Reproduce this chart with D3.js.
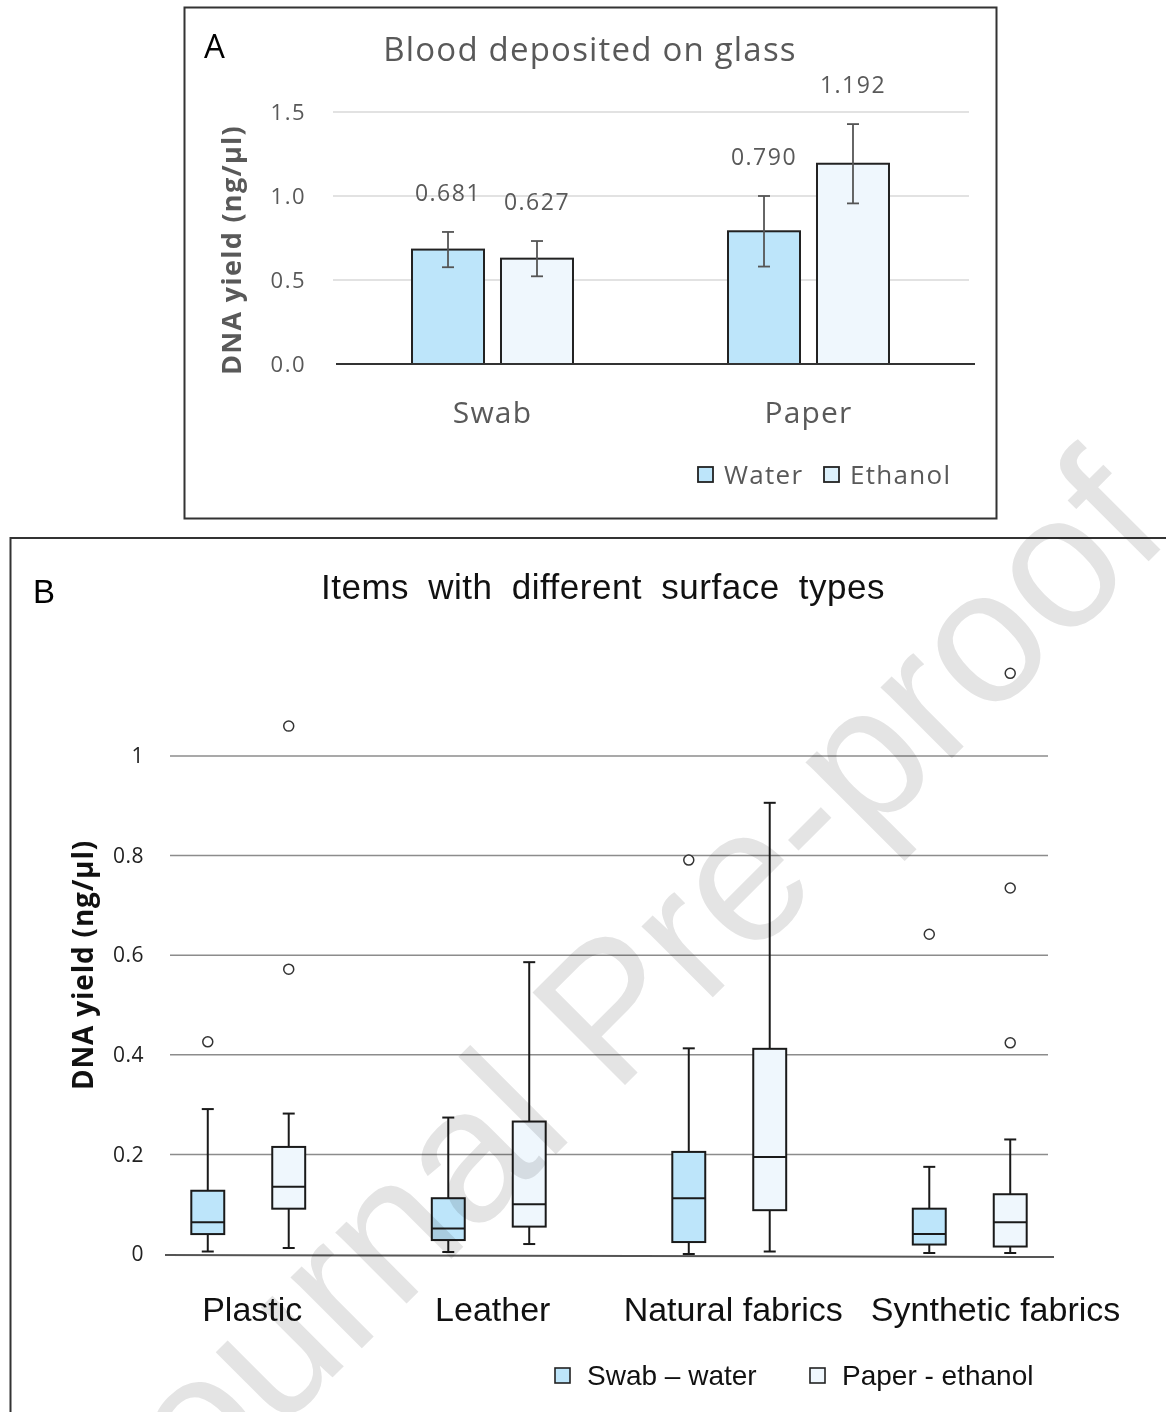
<!DOCTYPE html>
<html>
<head>
<meta charset="utf-8">
<script src="https://cdn.jsdelivr.net/npm/d3@7"></script>
<style>
  body { margin: 0; background: #fff; }
  svg { display: block; }
</style>
</head>
<body>
<div id="holder"></div>
<script>
const w = 1166;
const h = 1412;

// Panel A data
const sitesA = ["Swab", "Paper"];
const seriesA = ["Water", "Ethanol"];
const waterMean = [0.681, 0.790];
const ethanolMean = [0.627, 1.192];
const waterErr = [0.105, 0.21];
const ethanolErr = [0.105, 0.236];
const ticksA = [0, 0.5, 1.0, 1.5];

// Panel B data (box plots)
const surfaces = ["Plastic", "Leather", "Natural fabrics", "Synthetic fabrics"];
const seriesB = ["Swab \u2013 water", "Paper - ethanol"];
const swabMin = [0.005, 0.004, 0.0, 0.002];
const swabQ1 = [0.040, 0.028, 0.024, 0.019];
const swabMed = [0.064, 0.051, 0.112, 0.040];
const swabQ3 = [0.127, 0.112, 0.205, 0.091];
const swabMax = [0.291, 0.274, 0.413, 0.175];
const swabOut = [[0.426], [], [0.791], [0.642]];
const paperMin = [0.012, 0.020, 0.005, 0.002];
const paperQ1 = [0.091, 0.055, 0.088, 0.015];
const paperMed = [0.135, 0.100, 0.195, 0.064];
const paperQ3 = [0.215, 0.266, 0.412, 0.120];
const paperMax = [0.282, 0.586, 0.906, 0.230];
const paperOut = [[0.572, 1.060], [], [], [0.424, 0.735, 1.166]];
const ticksB = [0, 0.2, 0.4, 0.6, 0.8, 1];

const fillWater = "#bde5fa";
const fillEthanol = "#eff7fd";
const greyText = "#595959";
const fontA = "'Open Sans', 'DejaVu Sans', sans-serif";
const fontB = "'Liberation Sans', Arial, sans-serif";

const svg = d3.select("#holder")
    .append("svg")
    .attr("width", w)
    .attr("height", h)

// ---------------- Panel A ----------------
const gA = svg.append("g")

gA.append("rect")
    .attr("x", 184.5).attr("y", 7.5)
    .attr("width", 812).attr("height", 511)
    .attr("fill", "white")
    .attr("stroke", "#333").attr("stroke-width", 2)

gA.append("text")
    .attr("x", 204).attr("y", 58)
    .attr("font-family", fontA).attr("font-size", 33)
    .text("A")

gA.append("text")
    .attr("x", 590).attr("y", 61)
    .attr("text-anchor", "middle")
    .attr("font-family", fontA).attr("font-size", 33)
    .attr("letter-spacing", 1.2)
    .attr("fill", greyText)
    .text("Blood deposited on glass")

const yA = d3.scaleLinear().domain([0, 1.5]).range([364, 112])
const xA = d3.scaleBand().domain(sitesA).range([334.5, 966.5])
const xA2 = d3.scaleBand().domain(seriesA).range([0, xA.bandwidth()])
    .paddingInner(0.191).paddingOuter(0.871)

// gridlines
gA.append("g")
    .selectAll("line")
    .data(ticksA.slice(1))
    .join("line")
    .attr("x1", 333).attr("x2", 969)
    .attr("y1", d => yA(d)).attr("y2", d => yA(d))
    .attr("stroke", "#d9d9d9").attr("stroke-width", 1.5)

// y axis labels
const axisA = d3.axisLeft(yA).tickValues(ticksA).tickFormat(d3.format(".1f")).tickSize(0).tickPadding(0)
gA.append("g")
    .attr("transform", "translate(306,0)")
    .call(axisA)
    .call(g => g.select(".domain").remove())
    .call(g => g.selectAll("text")
        .attr("font-family", fontA).attr("font-size", 22)
        .attr("letter-spacing", 1.5)
        .attr("fill", greyText))

gA.append("text")
    .attr("transform", "translate(241,250) rotate(-90)")
    .attr("text-anchor", "middle")
    .attr("font-family", fontA).attr("font-size", 27).attr("font-weight", "bold")
    .attr("letter-spacing", 1.3)
    .attr("fill", greyText)
    .text("DNA yield (ng/\u00b5l)")

const barsA = [];
sitesA.forEach((s, i) => {
    barsA.push({ site: s, series: "Water", v: waterMean[i], e: waterErr[i], fill: fillWater });
    barsA.push({ site: s, series: "Ethanol", v: ethanolMean[i], e: ethanolErr[i], fill: fillEthanol });
});

gA.append("g")
    .selectAll("rect")
    .data(barsA)
    .join("rect")
    .attr("x", d => xA(d.site) + xA2(d.series))
    .attr("y", d => yA(d.v))
    .attr("width", xA2.bandwidth())
    .attr("height", d => yA(0) - yA(d.v))
    .attr("fill", d => d.fill)
    .attr("stroke", "#222").attr("stroke-width", 2)

// error bars
const errG = gA.append("g").attr("stroke", "#555").attr("stroke-width", 1.8)
barsA.forEach(d => {
    const cx = xA(d.site) + xA2(d.series) + xA2.bandwidth() / 2;
    errG.append("line").attr("x1", cx).attr("x2", cx)
        .attr("y1", yA(d.v + d.e)).attr("y2", yA(d.v - d.e))
    errG.append("line").attr("x1", cx - 6).attr("x2", cx + 6)
        .attr("y1", yA(d.v + d.e)).attr("y2", yA(d.v + d.e))
    errG.append("line").attr("x1", cx - 6).attr("x2", cx + 6)
        .attr("y1", yA(d.v - d.e)).attr("y2", yA(d.v - d.e))
})

// data labels
gA.append("g")
    .selectAll("text")
    .data(barsA)
    .join("text")
    .attr("x", d => xA(d.site) + xA2(d.series) + xA2.bandwidth() / 2)
    .attr("y", d => yA(d.v + d.e) - 31)
    .attr("text-anchor", "middle")
    .attr("font-family", fontA).attr("font-size", 23)
    .attr("letter-spacing", 1.5)
    .attr("fill", greyText)
    .text(d => d3.format(".3f")(d.v))

// x axis line
gA.append("line")
    .attr("x1", 336).attr("x2", 975)
    .attr("y1", yA(0)).attr("y2", yA(0))
    .attr("stroke", "#333").attr("stroke-width", 2)

gA.append("g")
    .selectAll("text")
    .data(sitesA)
    .join("text")
    .attr("x", d => xA(d) + xA.bandwidth() / 2)
    .attr("y", 423)
    .attr("text-anchor", "middle")
    .attr("font-family", fontA).attr("font-size", 30)
    .attr("letter-spacing", 1.2)
    .attr("fill", greyText)
    .text(d => d)

// legend A
const legA = gA.append("g").attr("transform", "translate(698,467)")
const legAx = [0, 126];
seriesA.forEach((s, i) => {
    legA.append("rect")
        .attr("x", legAx[i]).attr("y", 0).attr("width", 15).attr("height", 15)
        .attr("fill", i === 0 ? fillWater : "#dcf0fb")
        .attr("stroke", "#222").attr("stroke-width", 1.8)
    legA.append("text")
        .attr("x", legAx[i] + 26).attr("y", 17)
        .attr("font-family", fontA).attr("font-size", 26)
        .attr("letter-spacing", 1.3)
        .attr("fill", greyText)
        .text(s)
})

// ---------------- Panel B ----------------
const gB = svg.append("g")

gB.append("rect")
    .attr("x", 10.5).attr("y", 538)
    .attr("width", 1170).attr("height", 900)
    .attr("fill", "white")
    .attr("stroke", "#333").attr("stroke-width", 2)

gB.append("text")
    .attr("x", 33).attr("y", 603)
    .attr("font-family", fontB).attr("font-size", 33)
    .text("B")

gB.append("text")
    .attr("x", 603).attr("y", 599)
    .attr("text-anchor", "middle")
    .attr("font-family", fontB).attr("font-size", 35)
    .attr("letter-spacing", 0.5).attr("word-spacing", 9)
    .attr("fill", "#111")
    .text("Items with different surface types")

const yB = d3.scaleLinear().domain([0, 1]).range([1254, 756])
const xB = d3.scaleBand().domain(surfaces).range([128, 1090])
const xB2 = d3.scaleBand().domain(seriesB).range([0, xB.bandwidth()])
    .paddingInner(0.593).paddingOuter(0.782)

gB.append("g")
    .selectAll("line")
    .data(ticksB.slice(1))
    .join("line")
    .attr("x1", 170).attr("x2", 1048)
    .attr("y1", d => yB(d)).attr("y2", d => yB(d))
    .attr("stroke", "#8c8c8c").attr("stroke-width", 1.5)

const axisB = d3.axisLeft(yB).tickValues(ticksB).tickFormat(d3.format("~f")).tickSize(0).tickPadding(0)
gB.append("g")
    .attr("transform", "translate(144,0)")
    .call(axisB)
    .call(g => g.select(".domain").remove())
    .call(g => g.selectAll("text")
        .attr("font-family", fontA).attr("font-size", 21)
        .attr("letter-spacing", 0.5)
        .attr("fill", "#222"))

gB.append("text")
    .attr("transform", "translate(93,965) rotate(-90)")
    .attr("text-anchor", "middle")
    .attr("font-family", fontA).attr("font-size", 28).attr("font-weight", "bold")
    .attr("letter-spacing", 0.8)
    .attr("fill", "#111")
    .text("DNA yield (ng/\u00b5l)")

const boxes = [];
surfaces.forEach((s, i) => {
    boxes.push({ surf: s, series: seriesB[0], min: swabMin[i], q1: swabQ1[i], med: swabMed[i], q3: swabQ3[i], max: swabMax[i], out: swabOut[i], fill: fillWater });
    boxes.push({ surf: s, series: seriesB[1], min: paperMin[i], q1: paperQ1[i], med: paperMed[i], q3: paperQ3[i], max: paperMax[i], out: paperOut[i], fill: fillEthanol });
});

const boxG = gB.append("g")
boxes.forEach(d => {
    const x0 = xB(d.surf) + xB2(d.series);
    const bw = xB2.bandwidth();
    const cx = x0 + bw / 2;
    const g = boxG.append("g").attr("stroke", "#1a1a1a").attr("stroke-width", 2)
    g.append("line").attr("x1", cx).attr("x2", cx).attr("y1", yB(d.max)).attr("y2", yB(d.q3))
    g.append("line").attr("x1", cx).attr("x2", cx).attr("y1", yB(d.q1)).attr("y2", yB(d.min))
    g.append("line").attr("x1", cx - 6).attr("x2", cx + 6).attr("y1", yB(d.max)).attr("y2", yB(d.max))
    g.append("line").attr("x1", cx - 6).attr("x2", cx + 6).attr("y1", yB(d.min)).attr("y2", yB(d.min))
    g.append("rect")
        .attr("x", x0).attr("y", yB(d.q3))
        .attr("width", bw).attr("height", yB(d.q1) - yB(d.q3))
        .attr("fill", d.fill)
    g.append("line").attr("x1", x0).attr("x2", x0 + bw).attr("y1", yB(d.med)).attr("y2", yB(d.med))
    g.selectAll("circle")
        .data(d.out)
        .join("circle")
        .attr("cx", cx).attr("cy", v => yB(v)).attr("r", 5)
        .attr("fill", "white").attr("stroke", "#333").attr("stroke-width", 1.5)
})

gB.append("line")
    .attr("x1", 165).attr("x2", 1054)
    .attr("y1", yB(0) + 1).attr("y2", yB(0) + 3)
    .attr("stroke", "#555").attr("stroke-width", 2)

// category labels, nudged right if they would collide
const catLabels = gB.append("g")
    .selectAll("text")
    .data(surfaces)
    .join("text")
    .attr("x", d => xB(d) + xB.bandwidth() / 2 + 4)
    .attr("y", 1321)
    .attr("text-anchor", "middle")
    .attr("font-family", fontB).attr("font-size", 34)
    .attr("fill", "#111")
    .text(d => d)
let prevRight = -Infinity;
catLabels.each(function () {
    const bb = this.getBBox();
    if (bb.x < prevRight + 28) {
        const shift = prevRight + 28 - bb.x;
        d3.select(this).attr("x", +d3.select(this).attr("x") + shift);
        prevRight = bb.x + bb.width + shift;
    } else {
        prevRight = bb.x + bb.width;
    }
})

// legend B
const legB = gB.append("g").attr("transform", "translate(555,1368)")
const legBx = [0, 255];
seriesB.forEach((s, i) => {
    legB.append("rect")
        .attr("x", legBx[i]).attr("y", 0).attr("width", 15).attr("height", 15)
        .attr("fill", i === 0 ? fillWater : fillEthanol)
        .attr("stroke", "#222").attr("stroke-width", 1.6)
    legB.append("text")
        .attr("x", legBx[i] + 32).attr("y", 17)
        .attr("font-family", fontB).attr("font-size", 28)
        .attr("fill", "#111")
        .text(s)
})

// watermark
svg.append("text")
    .attr("transform", "translate(655,1055) rotate(-45)")
    .attr("text-anchor", "middle")
    .attr("font-family", "'Liberation Sans', Arial, sans-serif")
    .attr("font-size", 190)
    .attr("fill", "#e4e4e4")
    .style("mix-blend-mode", "multiply")
    .text("Journal Pre-proof")
</script>
</body>
</html>
